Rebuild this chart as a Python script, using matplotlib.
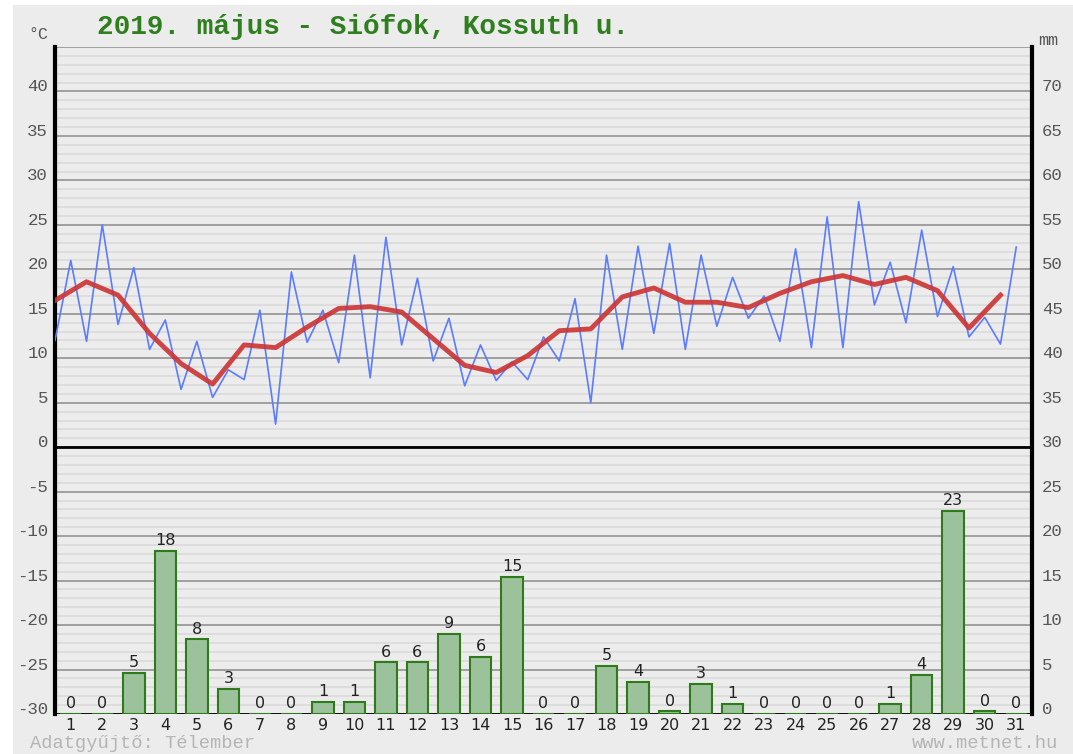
import matplotlib
matplotlib.use('Agg')
import matplotlib.pyplot as plt
from matplotlib.patches import Rectangle
from matplotlib.transforms import ScaledTranslation
import numpy as np

# napi adatok (2019. május, Siófok)
days = list(range(1, 32))
t_min = [12.0, 11.9, 13.8, 11.0, 6.5, 5.6, 7.6, 2.6, 11.8, 9.5, 7.8, 11.5, 9.7, 6.9, 7.5, 7.6,
         9.7, 5.0, 11.0, 12.8, 11.0, 13.6, 14.5, 11.9, 11.2, 11.2, 16.0, 14.0, 14.7, 12.4, 11.6]
t_max = [21.0, 25.0, 20.2, 14.3, 11.9, 8.7, 15.4, 19.7, 15.4, 21.6, 23.6, 19.0, 14.5, 11.5, 9.6, 12.4,
         16.7, 21.6, 22.6, 22.9, 21.6, 19.1, 17.0, 22.3, 25.9, 27.6, 20.8, 24.4, 20.3, 14.6, 22.5]
t_mean = [16.5, 18.6, 17.1, 12.8, 9.4, 7.1, 11.5, 11.2, 13.5, 15.6, 15.8, 15.2, 12.2, 9.2, 8.4, 10.3,
          13.1, 13.3, 16.9, 17.9, 16.3, 16.3, 15.7, 17.3, 18.6, 19.3, 18.3, 19.1, 17.6, 13.4, 17.1]
csapadek = [0, 0, 4.6, 18.3, 8.4, 2.8, 0, 0, 1.4, 1.4, 5.8, 5.8, 9.0, 6.4, 15.4, 0,
            0, 5.4, 3.6, 0.3, 3.4, 1.1, 0, 0, 0, 0, 1.1, 4.4, 22.8, 0.3, 0]

bg = '#ececec'
mono = 'Liberation Mono'
plt.rcParams['axes.unicode_minus'] = False

fig = plt.figure(figsize=(10.73, 7.54), dpi=100, facecolor='white')
fig.patches.append(Rectangle((13 / 1073, 0), 1, 1 - 5 / 754, transform=fig.transFigure,
                             facecolor=bg, edgecolor='none', zorder=-10))

ax = fig.add_axes([55 / 1073, 1 - 714 / 754, (1032 - 55) / 1073, (714 - 47) / 754])
ax.set_facecolor(bg)
ax.set_xlim(0.5, 31.5)
ax.set_ylim(-30, 45)

# rácsvonalak
for v in range(-30, 46):
    if v % 5 == 0:
        ax.axhline(v, color='#9a9a9a', lw=1.3, zorder=1)
    else:
        ax.axhline(v, color='#dcdcdc', lw=1.3, zorder=0.5)
ax.axhline(0, color='black', lw=2, zorder=2)
ax.axhline(-30, color='black', lw=2, zorder=2)

# hőmérséklet
x_blue = []
y_blue = []
for d, lo, hi in zip(days, t_min, t_max):
    x_blue += [d - 0.5, d]
    y_blue += [lo, hi]
ax.plot(x_blue, y_blue, color='#5b7cff', lw=1.2, zorder=3)
ax.plot(np.array(days) - 0.5, t_mean, color='#cc3333', lw=3.5, alpha=0.9,
        solid_joinstyle='round', zorder=4)

for s in ['top', 'bottom']:
    ax.spines[s].set_visible(False)
for s in ['left', 'right']:
    ax.spines[s].set_linewidth(3)
    ax.spines[s].set_color('black')

left_ticks = list(range(-30, 41, 5))
ax.set_yticks(left_ticks)
ax.set_yticklabels([str(v) for v in left_ticks], family=mono, fontsize=12.5, color='#555555')
ax.tick_params(axis='y', length=0, pad=5)
for lab in ax.get_yticklabels():
    lab.set_transform(lab.get_transform() + ScaledTranslation(0, 6 / 100, fig.dpi_scale_trans))

ax.set_xticks(days)
ax.set_xticklabels([str(d) for d in days], fontsize=11.5, color='#222222')
ax.tick_params(axis='x', length=0, pad=3)

# csapadék
ax2 = ax.twinx()
ax2.set_ylim(0, 75)
ax2.set_xlim(0.5, 31.5)
for s in ax2.spines.values():
    s.set_visible(False)
ax2.bar(days, csapadek, width=0.68, color='#9cc29c', edgecolor='#2f7a1a', linewidth=1.5, zorder=3)
for d, v in zip(days, csapadek):
    ax2.annotate(f'{v:.0f}', (d, v), xytext=(0, 2), textcoords='offset points',
                 ha='center', va='bottom', fontsize=11.5, color='#222222')

right_ticks = list(range(0, 71, 5))
ax2.set_yticks(right_ticks)
ax2.set_yticklabels([str(v) for v in right_ticks], family=mono, fontsize=12.5, color='#555555')
ax2.tick_params(axis='y', length=0, pad=7)
for lab in ax2.get_yticklabels():
    lab.set_transform(lab.get_transform() + ScaledTranslation(0, 6 / 100, fig.dpi_scale_trans))

fig.text(97 / 1073, 1 - 27 / 754, '2019. május - Siófok, Kossuth u.', family=mono,
         weight='bold', fontsize=20, color='#2f7f1f', ha='left', va='center')
fig.text(28 / 1073, 1 - 39 / 754, '°C', family=mono, fontsize=12, color='#555555',
         ha='left', va='baseline')
fig.text(1038 / 1073, 1 - 45 / 754, 'mm', family=mono, fontsize=12, color='#555555',
         ha='left', va='baseline')
fig.text(30 / 1073, 1 - 743 / 754, 'Adatgyűjtő: Télember', family=mono, fontsize=13.5,
         color='#b5b5b5', ha='left', va='center')
fig.text(1058 / 1073, 1 - 743 / 754, 'www.metnet.hu', family=mono, fontsize=13.5,
         color='#b5b5b5', ha='right', va='center')

fig.savefig('out.png', dpi=100, facecolor=fig.get_facecolor())
